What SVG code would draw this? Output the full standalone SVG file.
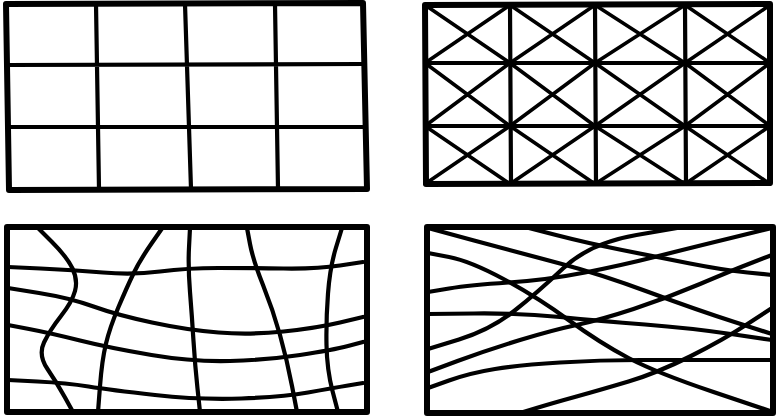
<svg xmlns="http://www.w3.org/2000/svg" width="778" height="420" viewBox="0 0 778 420">
<style>
.frame{fill:none;stroke:#000;stroke-width:6;stroke-linejoin:round}
.ln{fill:none;stroke:#000;stroke-width:4.2;stroke-linecap:round;stroke-linejoin:round}
.dg{fill:none;stroke:#000;stroke-width:3.6;stroke-linecap:round}
</style>
<rect width="778" height="420" fill="#fff"/>
<g id="grid-square">
<path class="frame" d="M6,4 L363,3 L367,189 L9,190 Z"/>
<path class="ln" d="M96,4 L99,189 M185,4 L191,189 M275,4 L278,189 M7,65 L365,64 M8,127 L366,127"/>
</g>
<g id="grid-braced">
<path class="frame" d="M425,5 L770,4 L770,183 L426,184 Z"/>
<path class="ln" d="M510,5 L511,184 M595,5 L596,184 M685,5 L686,184 M425,63 L770,63 M426,126 L770,126"/>
<path class="dg" d="M425,5L510,63 M425,63L510,5 M510,5L595,63 M510,63L595,5 M595,5L685,63 M595,63L685,5 M685,5L770,63 M685,63L770,5
M425,63L510,126 M425,126L510,63 M510,63L595,126 M510,126L595,63 M595,63L685,126 M595,126L685,63 M685,63L770,126 M685,126L770,63
M425,126L510,184 M425,184L510,126 M510,126L595,184 M510,184L595,126 M595,126L685,184 M595,184L685,126 M685,126L770,184 M685,184L770,126"/>
</g>
<g id="grid-curved">
<rect class="frame" x="7" y="227" width="360" height="185"/>
<path class="ln" d="M8,267 L40.5,268.5 Q73,270 103,272.5 Q133,275 160,271.5 Q187,268 218.5,268 Q250,268 283.5,268.5 Q317,269 340,265.5 L363,262"/>
<path class="ln" d="M8,288 L39,293 Q70,298 93.5,306.5 Q117,315 152,322.5 Q187,330 218.5,332.5 Q250,335 283.5,331.5 Q317,328 340,322.5 L363,317"/>
<path class="ln" d="M8,325 L29,329 Q50,333 80,340.5 Q110,348 151.5,355 Q193,362 230,361 Q267,360 300,355 Q333,350 348,346 L363,342"/>
<path class="ln" d="M8,380 L37.5,381.5 Q67,383 88.5,386.5 Q110,390 155,395 Q200,400 241.5,398.5 Q283,397 308,392.5 Q333,388 348,385.5 L363,383"/>
<path class="ln" d="M37,227 L52,242 Q67,257 72.5,268.5 Q78,280 75,291 Q72,302 61,316 Q50,330 44,342.5 Q38,355 47.5,369 Q57,383 65,397.5 L73,412"/>
<path class="ln" d="M163,227 L151.5,243.5 Q140,260 133.5,273.5 Q127,287 118.5,307 Q110,327 106,343.5 Q102,360 100,386 L98,412"/>
<path class="ln" d="M190,228 L189,247.5 Q188,267 190,292 Q192,317 193.5,341 Q195,365 197.5,388.5 L200,412"/>
<path class="ln" d="M247,228 L250,244 Q253,260 263,285 Q273,310 280,335 Q287,360 292,386 L297,412"/>
<path class="ln" d="M342,228 L336,247.5 Q330,267 328,293.5 Q326,320 326.5,345 Q327,370 332.5,391 L338,412"/>
</g>
<g id="grid-irregular">
<rect class="frame" x="427" y="227" width="346" height="186"/>
<path class="ln" d="M428,228 L474,240.5 Q520,253 560,263.5 Q600,274 648.5,292 Q697,310 734.5,322 L772,334"/>
<path class="ln" d="M525,227 L556,235 Q587,243 622,250 Q657,257 690,263.5 Q723,270 747.5,272.5 L772,275"/>
<path class="ln" d="M428,292 L449,288.5 Q470,285 508.5,282.5 Q547,280 585,272.5 Q623,265 656.5,256.5 Q690,248 731,238 L772,228"/>
<path class="ln" d="M428,253 L449,257 Q470,261 503.5,279 Q537,297 568.5,320 Q600,343 628.5,358 Q657,373 713.5,392 L770,411"/>
<path class="ln" d="M428,349 L459,339.5 Q490,330 513.5,311.5 Q537,293 563.5,268 Q590,243 636.5,235 L683,227"/>
<path class="ln" d="M428,314 L474,313.5 Q520,313 560,317 Q600,321 645,324.5 Q690,328 731,334 L772,340"/>
<path class="ln" d="M428,372 L457.5,361 Q487,350 520,340 Q553,330 576.5,325 Q600,320 633.5,309 Q667,298 700,284 Q733,270 752.5,262.5 L772,255"/>
<path class="ln" d="M428,388 L449,380.5 Q470,373 495,369 Q520,365 560,362.5 Q600,360 640,360 L772,360"/>
<path class="ln" d="M520,413 L536.5,408 Q553,403 576.5,396.5 Q600,390 628.5,381.5 Q657,373 690,356.5 Q723,340 747.5,324 L772,308"/>
</g>
</svg>
